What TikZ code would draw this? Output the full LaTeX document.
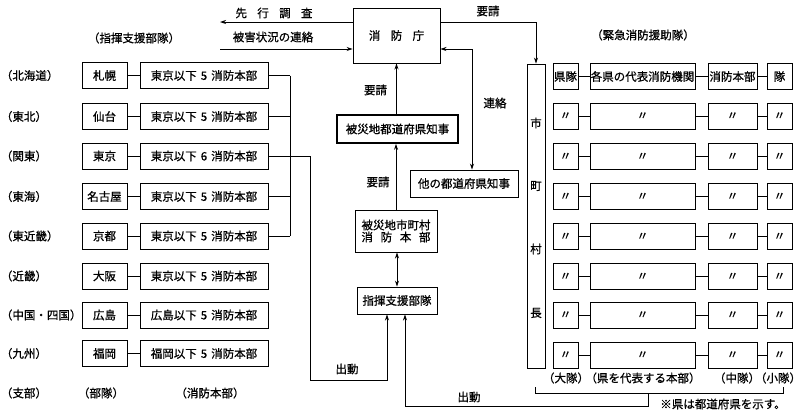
\documentclass[tikz,border=0pt]{standalone}
\usepackage{fontspec}
\setmainfont{Noto Sans CJK JP}[FakeBold=0.8]
\usetikzlibrary{arrows.meta,calc}
\begin{document}
\begin{tikzpicture}[x=1pt,y=-1pt,
  font=\fontsize{11.5}{13}\selectfont,
  line width=0.9pt,
  box/.style={draw, inner sep=0pt, minimum height=26pt},
  lbl/.style={inner sep=0pt},
  arr/.style={-{Stealth[length=6pt,width=4pt]}},
  darr/.style={{Stealth[length=6pt,width=4pt]}-{Stealth[length=6pt,width=4pt]}}]
\useasboundingbox (0,0) rectangle (800,416);

% ---------- left column ----------
\node[lbl] (hL) at (134,38) {（指揮支援部隊）};
\foreach \i/\y/\r/\s/\p/\n in {1/75.5/北海道/札幌/東京/5, 2/116.5/東北/仙台/東京/5,
  3/156/関東/東京/東京/6, 4/196.5/東海/名古屋/東京/5, 5/236/東近畿/京都/東京/5,
  6/276/近畿/大阪/東京/5, 7/315/中国・四国/広島/広島/5, 8/353.5/九州/福岡/福岡/5}{
  \node[lbl, anchor=west] (g\i) at (0.5,\y) {（\r）};
  \node[box, minimum width=45pt] (s\i) at (104.5,\y) {\s};
  \node[box, minimum width=128pt] (b\i) at (204,\y) {\p 以下\hspace{.35em}\n\hspace{.35em}消防本部};
  \draw (s\i.east) -- (b\i.west);
}
\node[lbl, anchor=west] (fL1) at (0.5,393) {（支部）};
\node[lbl] (fL2) at (101,393) {（部隊）};
\node[lbl] (fL3) at (210,393) {（消防本部）};

% group line
\coordinate (v1) at (290,0);
\foreach \i in {1,2,4,5} \draw (b\i.east) -- (b\i.east -| v1);
\draw (b1.east -| v1) -- (b5.east -| v1);

% ---------- centre column ----------
\node[box, minimum width=87pt, minimum height=55pt] (cho) at (396.5,35.5) {消\hspace{.9em}防\hspace{.9em}庁};
\node[box, line width=1.6pt, minimum width=121pt, minimum height=28pt] (hken) at (397.5,129) {被災地都道府県知事};
\node[box, minimum width=108pt, minimum height=27pt] (hoka) at (464,183.5) {他の都道府県知事};
\node[box, minimum width=82pt, minimum height=42pt, align=center] (hshi) at (396,231) {被災地市町村\\[-1pt]消\hspace{.667em}防\hspace{.667em}本\hspace{.667em}部};
\node[box, minimum width=80pt, minimum height=27pt] (shien) at (397,300.5) {指揮支援部隊};

\coordinate (t1) at (220,22);
\coordinate (t2) at (220,49);
\coordinate (r1) at (472,49);
\node[lbl] (l1) at (274,13) {先\hspace{.9em}行\hspace{.9em}調\hspace{.9em}査};
\node[lbl] (l2) at (273,37) {被害状況の連絡};
\node[lbl] (l3) at (488,11) {要請};
\node[lbl] (l4) at (375.5,90) {要請};
\node[lbl] (l5) at (495,103) {連絡};
\node[lbl] (l6) at (378,182) {要請};
\node[lbl] (l7) at (347,369) {出動};
\node[lbl] (l8) at (469,397) {出動};

\draw[arr] (cho.west |- t1) -- (t1);
\draw[arr] (t2) -- (cho.west |- t2);
\draw[darr] (cho.east |- r1) -| (r1 |- hoka.north);
\draw[arr] (hken.north -| cho.south) -- (cho.south);
\draw[arr] (hshi.north) -- (hshi.north |- hken.south);
\draw[darr] (hshi.south -| shien.north) -- (shien.north);

% ---------- right column ----------
\node[box, minimum width=18pt, minimum height=304pt] (mcs) at (536,216) {};
\node[lbl] (m1) at (536,123) {市};
\node[lbl] (m2) at (536,186) {町};
\node[lbl] (m3) at (536,249) {村};
\node[lbl] (m4) at (536,313) {長};
\draw[arr] (cho.east |- t1) -| (mcs.north);

\node[lbl] (hR) at (643,35) {（緊急消防援助隊）};
\foreach \i/\y/\ta/\tb/\tc/\td in {1/76.5/県隊/各県の代表消防機関/消防本部/隊,
  2/116/〃/〃/〃/〃, 3/156.5/〃/〃/〃/〃, 4/196.5/〃/〃/〃/〃, 5/236.5/〃/〃/〃/〃,
  6/276.5/〃/〃/〃/〃, 7/315/〃/〃/〃/〃, 8/355/〃/〃/〃/〃}{
  \node[box, minimum width=25pt] (ka\i) at (565.5,\y) {\ta};
  \node[box, minimum width=105pt] (kb\i) at (642.5,\y) {\tb};
  \node[box, minimum width=49pt] (kc\i) at (732.5,\y) {\tc};
  \node[box, minimum width=25pt] (kd\i) at (779.5,\y) {\td};
  \draw (ka\i.east) -- (kb\i.west);
  \draw (kb\i.east) -- (kc\i.west);
  \draw (kc\i.east) -- (kd\i.west);
}
\node[lbl] (fR1) at (566,378) {（大隊）};
\node[lbl] (fR2) at (643,378) {（県を代表する本部）};
\node[lbl] (fR3) at (737,378) {（中隊）};
\node[lbl] (fR4) at (778,378) {（小隊）};

% bracket and dispatch lines
\coordinate (brl) at (535,393);
\coordinate (brr) at (783,393);
\coordinate (brm) at (648,393);
\coordinate (e1) at (0,406);
\coordinate (e2) at (405,0);
\draw (brl) ++(0,-6) -- (brl) -- (brr) -- ++(0,-6);
\draw[arr] (brm) -- (brm |- e1) -| (e2 |- shien.south);
\coordinate (d1) at (310,380);
\coordinate (d2) at (387,0);
\draw[arr] (b3.east) -| (d1) -| (d2 |- shien.south);
\node[lbl] (note) at (723,404) {※県は都道府県を示す。};
\end{tikzpicture}
\end{document}
